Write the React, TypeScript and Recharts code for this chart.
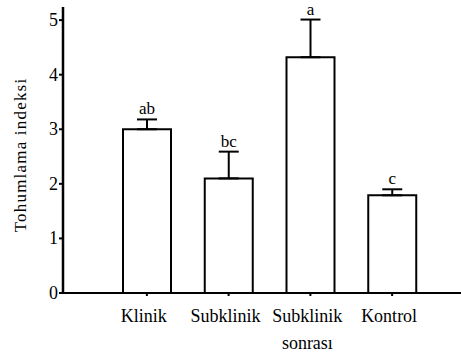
import React from "react";
import {
	BarChart,
	Bar,
	XAxis,
	YAxis,
	ErrorBar,
	LabelList,
} from "recharts";

const groups = ["Klinik", "Subklinik", "Subklinik sonrası", "Kontrol"];
const means = [3.0, 2.1, 4.32, 1.79];
const errors = [0.18, 0.49, 0.69, 0.11];
const letters = ["ab", "bc", "a", "c"];
const yTicks = [0, 1, 2, 3, 4, 5];

const data = groups.map((g, i) => ({
	group: g,
	mean: means[i],
	err: [0, errors[i]],
	letter: letters[i],
}));

const FONT = "'Liberation Serif', 'Times New Roman', serif";

const GroupTick = (props: any) => {
	const { x, y, payload } = props;
	const parts = String(payload.value).split(" ");
	const lines =
		parts.length > 1 && parts[0] === "Subklinik"
			? [parts[0], parts.slice(1).join(" ")]
			: [payload.value];
	return (
		<text
			x={x - 3}
			y={y + 24}
			textAnchor="middle"
			fill="#000"
			style={{ fontFamily: FONT, fontSize: 18 }}
		>
			{lines.map((l: string, i: number) => (
				<tspan key={i} x={x - 3} dy={i === 0 ? 0 : 27}>
					{l}
				</tspan>
			))}
		</text>
	);
};

const ValueTick = (props: any) => {
	const { x, y, payload } = props;
	return (
		<text
			x={x}
			y={y + 6}
			textAnchor="end"
			fill="#000"
			style={{ fontFamily: FONT, fontSize: 18 }}
		>
			{payload.value}
		</text>
	);
};

const YLabel = (props: any) => {
	const { viewBox } = props;
	const cy = viewBox.y + viewBox.height / 2 + 5;
	return (
		<text
			x={26}
			y={cy}
			transform={`rotate(-90, 26, ${cy})`}
			textAnchor="middle"
			fill="#000"
			style={{ fontFamily: FONT, fontSize: 17, letterSpacing: 1.2 }}
		>
			Tohumlama indeksi
		</text>
	);
};

const LetterLabel = (props: any) => {
	const { x, y, width, height, value, index } = props;
	const perUnit = height / means[index];
	const top = y - errors[index] * perUnit;
	return (
		<text
			x={x + width / 2}
			y={top - 5}
			textAnchor="middle"
			fill="#000"
			style={{ fontFamily: FONT, fontSize: 17 }}
		>
			{value}
		</text>
	);
};

const App: React.FC = () => {
	return (
		<div style={{ position: "absolute", left: 0, top: 0, width: 461, height: 352, background: "#fff" }}>
			<BarChart
				width={461}
				height={352}
				data={data}
				margin={{ top: 7, right: 0, left: 0, bottom: 0 }}
			>
				<XAxis
					dataKey="group"
					interval={0}
					height={59}
					padding={{ left: 43, right: 28 }}
					axisLine={{ stroke: "#000", strokeWidth: 2 }}
					tickLine={{ stroke: "#000", strokeWidth: 2 }}
					tickSize={3}
					tick={<GroupTick />}
				/>
				<YAxis
					width={63}
					domain={[0, 5.24]}
					ticks={yTicks}
					allowDataOverflow
					axisLine={{ stroke: "#000", strokeWidth: 2.5 }}
					tickLine={{ stroke: "#000", strokeWidth: 2 }}
					tickSize={4}
					tickMargin={1}
					tick={<ValueTick />}
					label={<YLabel />}
				/>
				<Bar
					dataKey="mean"
					fill="#fff"
					stroke="#000"
					strokeWidth={2}
					barSize={48}
					isAnimationActive={false}
				>
					<ErrorBar
						dataKey="err"
						direction="y"
						width={10}
						stroke="#000"
						strokeWidth={2}
					/>
					<LabelList dataKey="letter" content={<LetterLabel />} />
				</Bar>
			</BarChart>
		</div>
	);
};

export default App;
